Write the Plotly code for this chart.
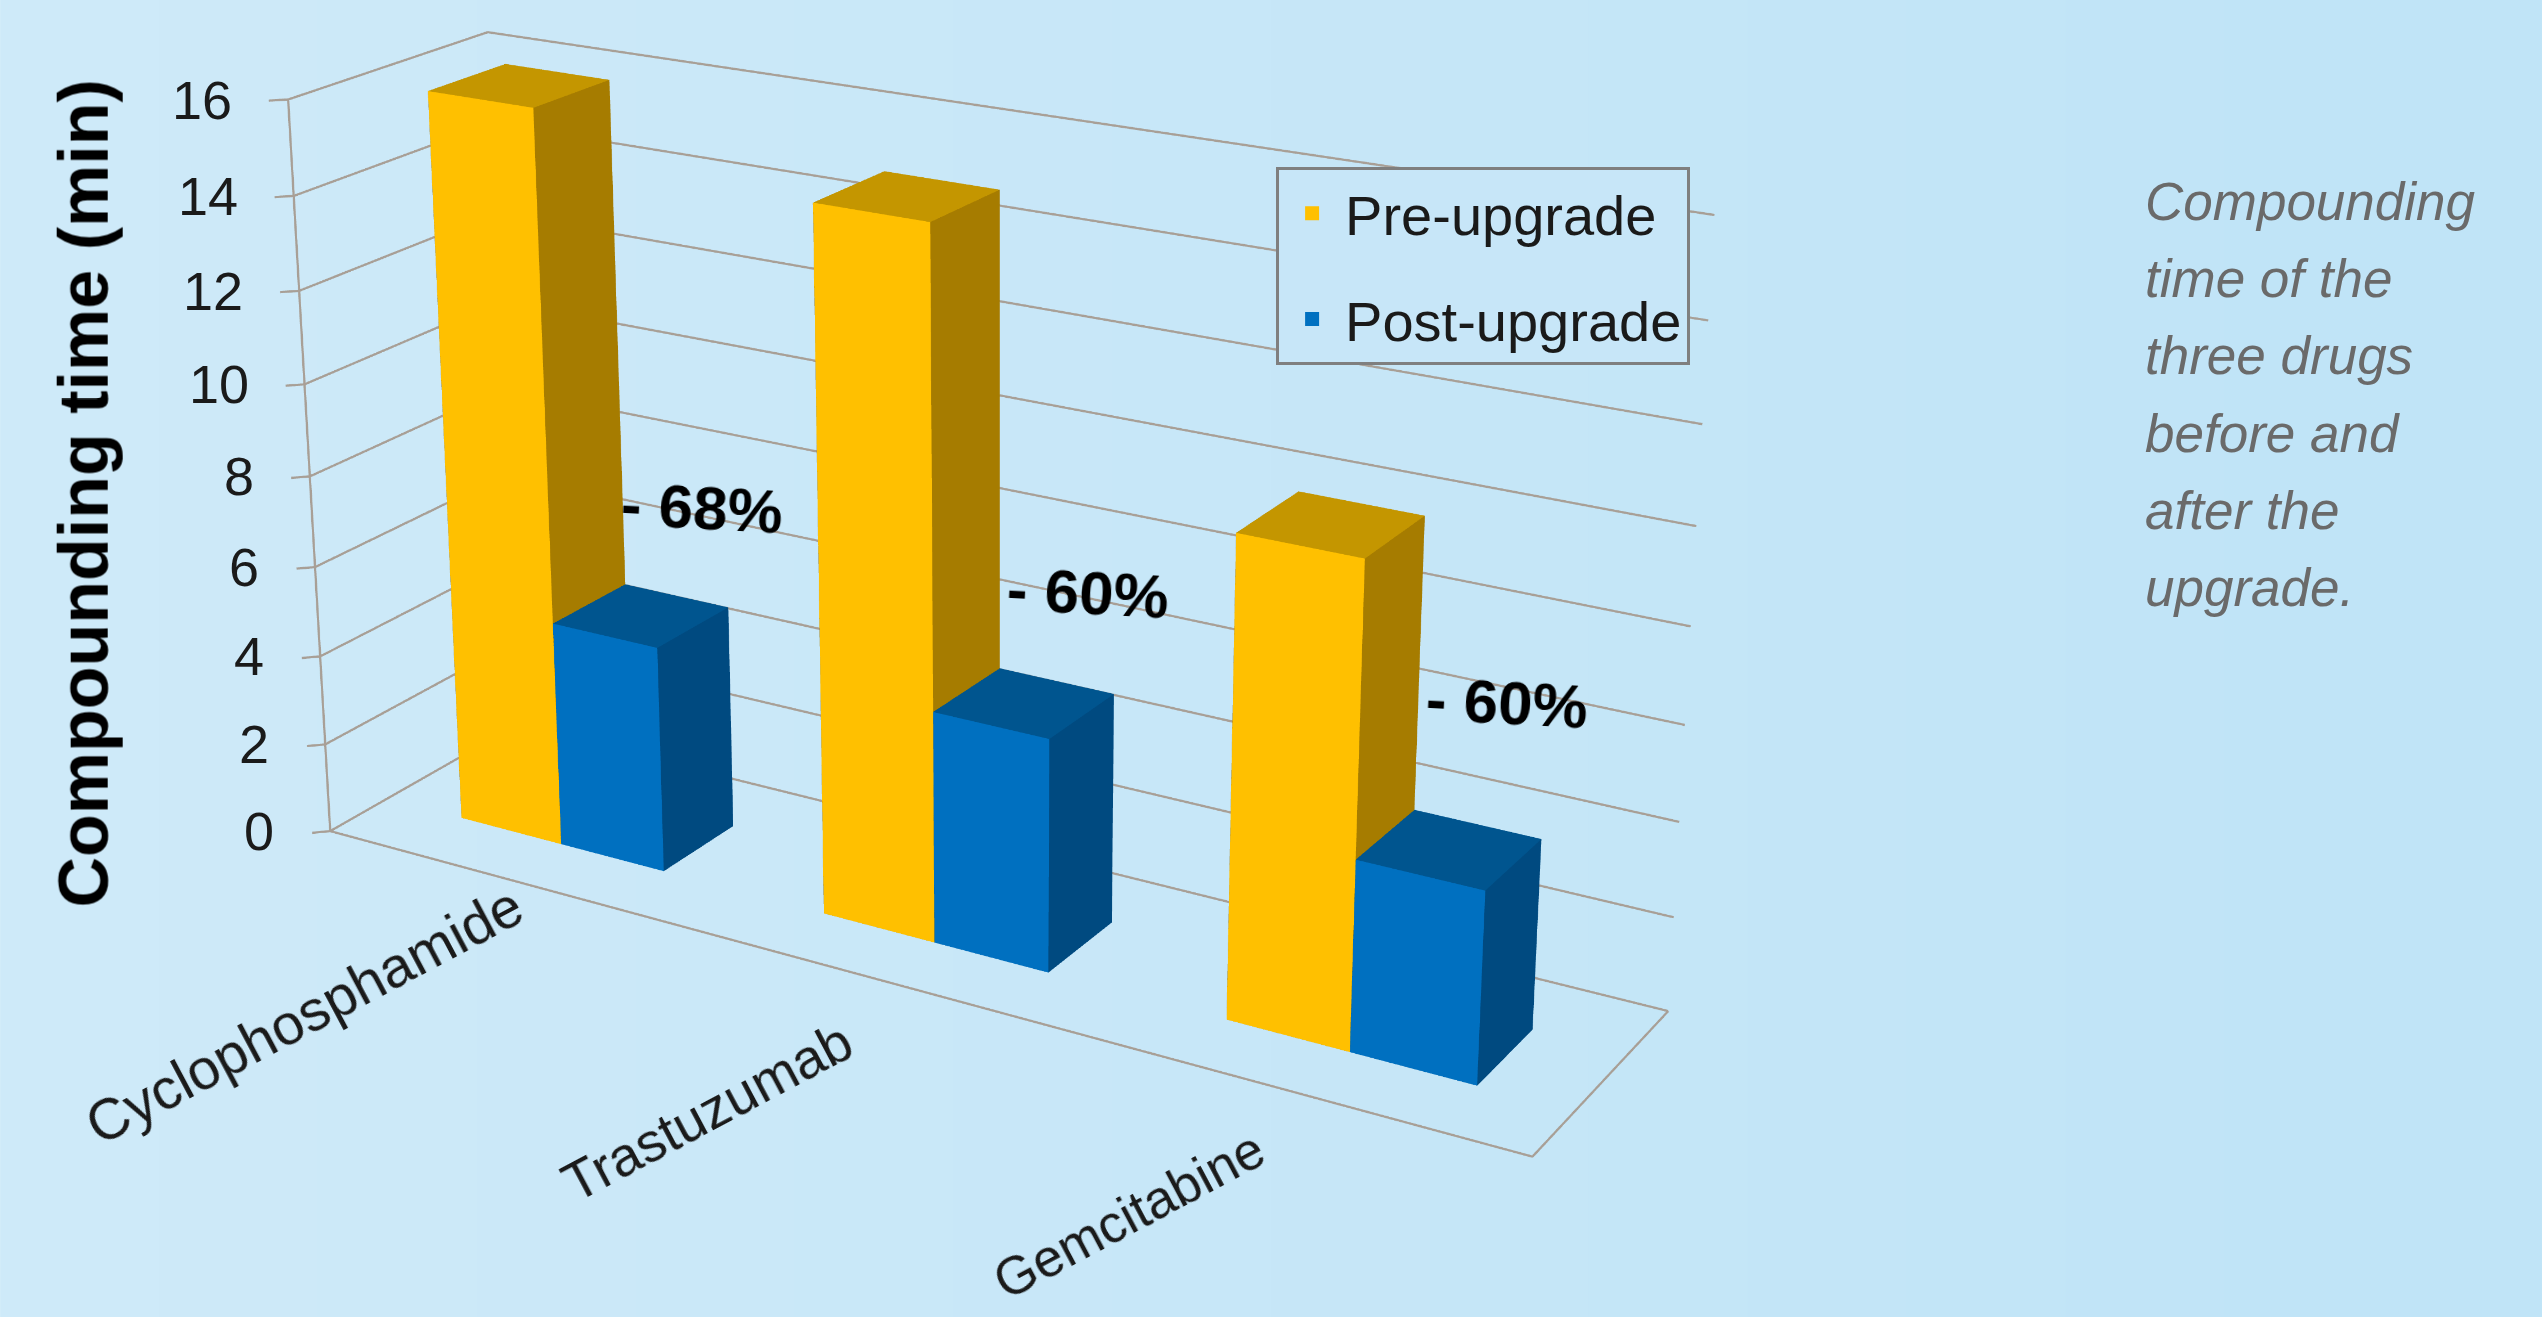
import numpy as np
import plotly.graph_objects as go

# ---- chart data ----
categories = ["Cyclophosphamide", "Trastuzumab", "Gemcitabine"]
pre_upgrade = [16, 15, 10]
post_upgrade = [5, 5, 4]
z_ticks = [0, 2, 4, 6, 8, 10, 12, 14, 16]
series_names = ["Pre-upgrade", "Post-upgrade"]
reductions = ["- 68%", "- 60%", "- 60%"]
side_note = ["Compounding", "time of the", "three drugs", "before and", "after the", "upgrade."]
y_title = "Compounding time (min)"

# ---- page / camera set-up ----
W, H = 2542, 1317
WW, HH = 3082, 3407
OX, OY = 540.1, 1304.4
def X(v): return (v + OX) / WW
def Y(v): return 1 - (v + OY) / HH

XR, YR, ZR = [-0.1, 3.03], [-0.1, 1.03], [-0.3, 16.3]
asp_x = (XR[1] - XR[0]) / 3
asp_y = 0.2381 * (YR[1] - YR[0])
asp_z = 0.5801 * (ZR[1] - ZR[0]) / 16
dx = (1.5 - sum(XR) / 2) / (XR[1] - XR[0]) * asp_x
dy = (0.5 - sum(YR) / 2) / (YR[1] - YR[0]) * asp_y
eye = dict(x=1.4042 + dx, y=-2.3522 + dy, z=1.0424)
center = dict(x=-0.0010 + dx, y=0.0500 + dy, z=0.0967)

BAR_S, BAR_W, D0, D1 = 0.2167, 0.2854, 0.2961, 0.6900
COLORS = [("#FFC000", "#C49600", "#A67C00"), ("#0070C0", "#00558F", "#004A80")]
LINE = "#A89F96"
FONT = "Liberation Sans"

def box(x0, x1, y0, y1, z1, cols):
    xs = [x0, x1, x1, x0, x0, x1, x1, x0]
    ys = [y0, y0, y1, y1, y0, y0, y1, y1]
    zs = [0, 0, 0, 0, z1, z1, z1, z1]
    i = [0, 0, 4, 4, 1, 1, 0, 0, 3, 3, 0, 0]
    j = [1, 2, 5, 6, 2, 6, 1, 5, 2, 6, 3, 7]
    k = [2, 3, 6, 7, 6, 5, 5, 4, 6, 7, 7, 4]
    fc = [cols[2]] * 2 + [cols[1]] * 2 + [cols[2]] * 2 + [cols[0]] * 2 + [cols[2]] * 4
    return go.Mesh3d(x=xs, y=ys, z=zs, i=i, j=j, k=k, facecolor=fc, flatshading=True,
                     lighting=dict(ambient=1, diffuse=0, specular=0, fresnel=0),
                     hoverinfo="skip", showlegend=False)

traces = []
# gridlines on the two walls, frame and axis stubs
gx, gy, gz = [], [], []
for t in z_ticks:
    gx += [-0.03, 0, 0, 3, None]
    gy += [-0.04, 0, 1, 1, None]
    gz += [t, t, t, t, None]
gx += [0, 0, None, 0, 3, 3]
gy += [0, 0, None, 0, 0, 1]
gz += [0, z_ticks[-1], None, 0, 0, 0]
traces.append(go.Scatter3d(x=gx, y=gy, z=gz, mode="lines", line=dict(color=LINE, width=4),
                           hoverinfo="skip", showlegend=False))

for c in range(len(categories)):
    for ser, v in enumerate((pre_upgrade[c], post_upgrade[c])):
        traces.append(box(c + BAR_S + ser * BAR_W, c + BAR_S + (ser + 1) * BAR_W, D0, D1, v, COLORS[ser]))

# legend entries
for ser, name in enumerate(series_names):
    traces.append(go.Scatter3d(x=[None], y=[None], z=[None], mode="markers", name=name, legendgroup=name,
                               marker=dict(symbol="square", size=16, color=COLORS[ser][0],
                                           line=dict(color=COLORS[ser][0], width=10))))

fig = go.Figure(traces)

hidden = dict(visible=False, showgrid=False, showbackground=False, showticklabels=False, title="",
              zeroline=False, showline=False, showspikes=False)

scene_ann = [dict(x=0, y=0, z=t, text=str(t), showarrow=False, xanchor="right", yanchor="middle", xshift=-54,
                  font=dict(size=54, family=FONT, color="#1A1A1A")) for t in z_ticks]

ann = []
ann.append(dict(x=X(84), y=Y(493), text="<b>%s</b>" % y_title, textangle=-90,
                font=dict(size=70, family=FONT, color="#000000")))
for text, cx, cy, fs in zip(categories, (304, 707, 1129), (1015, 1112, 1214), (57, 55, 53)):
    ann.append(dict(x=X(cx), y=Y(cy), text=text, textangle=-28, font=dict(size=fs, family=FONT, color="#1A1A1A")))
for text, cx, cy in zip(reductions, (702, 1088, 1507), (507, 592, 702)):
    ann.append(dict(x=X(cx), y=Y(cy), text="<b>%s</b>" % text, textangle=3, font=dict(size=62, family=FONT, color="#000000")))
for n, line in enumerate(side_note):
    ann.append(dict(x=X(2143), y=Y(201 + n * 77.2), text="<i>%s</i>" % line, xanchor="left", yanchor="middle",
                    font=dict(size=53, family=FONT, color="#6A6A6A")))
for a in ann:
    a.update(xref="paper", yref="paper", showarrow=False)
    a.setdefault("xanchor", "center")
    a.setdefault("yanchor", "middle")

bands = 16
shapes = []
for b in range(bands):
    t = b / (bands - 1)
    col = "rgb(%d,%d,%d)" % (206 - 14 * t, 234 - 6 * t, 249 - 2 * t)
    shapes.append(dict(type="rect", xref="paper", yref="paper", layer="below", line=dict(width=0), fillcolor=col,
                       x0=X(W * b / bands), x1=X(W * (b + 1) / bands + 1), y0=0, y1=1))

fig.update_layout(
    width=WW, height=HH, margin=dict(l=0, r=0, t=0, b=0), paper_bgcolor="rgba(0,0,0,0)", shapes=shapes,
    annotations=ann,
    scene=dict(domain=dict(x=[0, 1], y=[0, 1]), aspectmode="manual",
               aspectratio=dict(x=asp_x, y=asp_y, z=asp_z), bgcolor="rgba(0,0,0,0)",
               camera=dict(eye=eye, center=center, up=dict(x=0, y=0, z=1), projection=dict(type="perspective")),
               xaxis=dict(range=XR, **hidden), yaxis=dict(range=YR, **hidden),
               zaxis=dict(range=ZR, tickvals=z_ticks, **hidden),
               annotations=scene_ann),
    showlegend=True,
    legend=dict(x=X(1276), y=Y(167), xanchor="left", yanchor="top", bgcolor="#C7E6F8", bordercolor="#7F7F7F",
                borderwidth=3, font=dict(size=56, family=FONT, color="#1A1A1A"), tracegroupgap=30,
                itemsizing="constant", itemwidth=56),
)
fig.write_html("out.html", config=dict(displayModeBar=False),
               post_script="var gd=document.getElementById('{plot_id}');gd.style.position='absolute';gd.style.left='%dpx';gd.style.top='%dpx';document.body.style.margin='0';document.body.style.overflow='hidden';document.documentElement.style.overflow='hidden';" % (round(-OX), round(-OY)))
